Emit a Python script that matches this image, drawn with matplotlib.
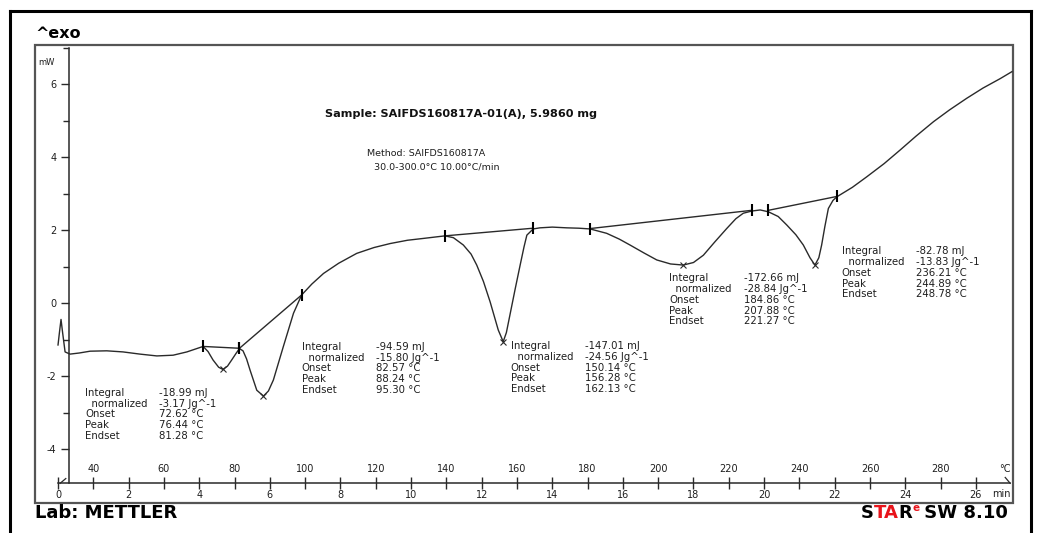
import matplotlib
matplotlib.use('Agg')
import matplotlib.pyplot as plt
from matplotlib.patches import Rectangle
from matplotlib.lines import Line2D
from matplotlib.ticker import FixedLocator

plt.rcParams['font.family'] = ['DejaVu Sans']
plt.rcParams['axes.unicode_minus'] = False

# DSC curve (time in min, heat flow in mW)
time_min = [0.00, 0.04, 0.085, 0.13, 0.20, 0.34, 0.60, 0.91, 1.38, 1.84,
            2.32, 2.80, 3.26, 3.65, 4.11, 4.25, 4.39, 4.55, 4.67, 4.80,
            4.92, 5.05, 5.14, 5.24, 5.34, 5.44, 5.63, 5.82, 5.96, 6.10,
            6.38, 6.67, 6.90, 7.19, 7.52, 7.95, 8.46, 8.95, 9.41, 9.90,
            10.35, 10.96, 11.20, 11.48, 11.70, 11.86, 12.05, 12.24, 12.47, 12.61,
            12.70, 12.80, 12.95, 13.09, 13.20, 13.28, 13.46, 13.65, 14.00, 14.41,
            14.75, 15.07, 15.54, 15.90, 16.20, 16.60, 16.96, 17.35, 17.71, 18.00,
            18.28, 18.60, 18.94, 19.20, 19.41, 19.65, 19.89, 20.12, 20.40, 20.64,
            20.90, 21.11, 21.30, 21.44, 21.55, 21.63, 21.72, 21.82, 21.95, 22.06,
            22.50, 22.91, 23.40, 23.85, 24.30, 24.80, 25.25, 25.74, 26.20, 26.69,
            27.02]
heat_flow = [-1.14, -0.80, -0.44, -0.80, -1.33, -1.39, -1.36, -1.31, -1.30, -1.33,
             -1.39, -1.44, -1.42, -1.33, -1.18, -1.32, -1.55, -1.75, -1.81, -1.72,
             -1.55, -1.36, -1.24, -1.30, -1.52, -1.83, -2.38, -2.54, -2.40, -2.10,
             -1.19, -0.27, 0.23, 0.53, 0.82, 1.10, 1.37, 1.53, 1.64, 1.73,
             1.78, 1.85, 1.80, 1.60, 1.35, 1.05, 0.60, 0.04, -0.73, -1.05,
             -0.80, -0.32, 0.40, 1.05, 1.55, 1.87, 2.04, 2.07, 2.09, 2.07,
             2.06, 2.04, 1.92, 1.76, 1.60, 1.38, 1.19, 1.08, 1.05, 1.12,
             1.32, 1.68, 2.05, 2.32, 2.47, 2.53, 2.56, 2.51, 2.38, 2.15,
             1.88, 1.60, 1.25, 1.05, 1.25, 1.60, 2.10, 2.60, 2.82, 2.92,
             3.18, 3.47, 3.83, 4.20, 4.58, 4.98, 5.30, 5.62, 5.90, 6.16,
             6.35]

# integration limits (start, end) of each peak
limit_t = [(4.11, 5.14), (5.14, 6.90), (10.96, 13.46), (15.07, 19.65), (20.12, 22.06)]
limit_mw = [(-1.18, -1.23), (-1.23, 0.23), (1.85, 2.06), (2.05, 2.55), (2.55, 2.93)]
peak_t = [4.67, 5.82, 12.61, 17.71, 21.44]
peak_mw = [-1.81, -2.54, -1.05, 1.05, 1.05]

# evaluation results
integral_mj = ['-18.99', '-94.59', '-147.01', '-172.66', '-82.78']
normalized = ['-3.17', '-15.80', '-24.56', '-28.84', '-13.83']
onset_c = ['72.62', '82.57', '150.14', '184.86', '236.21']
peak_c = ['76.44', '88.24', '156.28', '207.88', '244.89']
endset_c = ['81.28', '95.30', '162.13', '221.27', '248.78']
block_pos = [(0.77, -2.45), (6.90, -1.19), (12.82, -1.17), (17.32, 0.69), (22.20, 1.43)]

temp_ticks = [40, 60, 80, 100, 120, 140, 160, 180, 200, 220, 240, 260, 280]
time_ticks = list(range(0, 27, 2))

W, H = 1041, 533
fig = plt.figure(figsize=(W / 100, H / 100), dpi=100)
ax = fig.add_axes([35 / W, 1 - 503 / H, (1013 - 35) / W, (503 - 45) / H])
ax.set_xlim(-0.652, 27.05)
ax.set_ylim(-5.47, 7.08)
ax.patch.set_alpha(0)

ink = '#2a2a2a'
txt = '#1e1e1e'
ax.plot(time_min, heat_flow, color=ink, lw=1.0)
for (t0, t1), (m0, m1) in zip(limit_t, limit_mw):
    ax.plot([t0, t1], [m0, m1], color=ink, lw=1.0)
    ax.plot([t0, t1], [m0, m1], ls='none', marker='|', ms=8, mew=1.5, color='k')
ax.plot(peak_t, peak_mw, ls='none', marker='x', ms=5, mew=0.8, color=ink)

# result tables
row = 0.296
names = ['Integral', '  normalized', 'Onset', 'Peak', 'Endset']
for i, (bx, by) in enumerate(block_pos):
    vals = [integral_mj[i] + ' mJ', normalized[i] + ' Jg^-1', onset_c[i] + ' °C',
            peak_c[i] + ' °C', endset_c[i] + ' °C']
    for k in range(5):
        ax.text(bx, by - k * row, names[k], fontsize=7.3, va='center', ha='left', color=txt)
        ax.text(bx + 2.10, by - k * row, vals[k], fontsize=7.3, va='center', ha='left', color=txt)

ax.text(7.56, 5.19, 'Sample: SAIFDS160817A-01(A), 5.9860 mg', fontsize=8.1,
        fontweight='bold', va='center', ha='left', color='#111')
ax.text(8.76, 4.11, 'Method: SAIFDS160817A', fontsize=6.8, va='center', ha='left', color=txt)
ax.text(8.95, 3.73, '30.0-300.0°C 10.00°C/min', fontsize=6.8, va='center', ha='left', color=txt)

# axes
for s in ['top', 'right']:
    ax.spines[s].set_visible(False)
ax.spines['left'].set_position(('data', 0.31))
ax.spines['left'].set_bounds(-4.93, 7.0)
ax.spines['bottom'].set_position(('data', -4.93))
ax.spines['bottom'].set_bounds(0, 26.97)
for s in ['left', 'bottom']:
    ax.spines[s].set_color(ink)
    ax.spines[s].set_linewidth(1.1)

ax.yaxis.set_major_locator(FixedLocator([-4, -2, 0, 2, 4, 6]))
ax.yaxis.set_minor_locator(FixedLocator([-3, -1, 1, 3, 5, 7]))
ax.tick_params(axis='y', which='major', length=6, width=1, color=ink, labelsize=7,
               labelcolor=txt, pad=3)
ax.tick_params(axis='y', which='minor', length=4.5, width=1, color=ink)

ax.xaxis.set_major_locator(FixedLocator(time_ticks))
ax.xaxis.set_minor_locator(FixedLocator([(t - 30) / 10 for t in temp_ticks]))
ax.tick_params(axis='x', which='both', direction='inout', length=8, width=1,
               color=ink, labelsize=7, labelcolor=txt, pad=1)
for T in temp_ticks:
    ax.text((T - 30) / 10, -4.55, str(T), fontsize=7, ha='center', va='center', color=txt)
ax.text(26.97, -4.55, '°C', fontsize=7, ha='right', va='center', color=txt)
ax.text(26.97, -5.23, 'min', fontsize=7, ha='right', va='center', color=txt)
ax.plot([0.06, 0.22], [-4.93, -4.80], color=ink, lw=0.9, clip_on=False)
ax.plot([26.83, 26.97], [-4.77, -4.93], color=ink, lw=0.9, clip_on=False)
ax.text(-0.57, 6.61, 'mW', fontsize=6, ha='left', va='center', color=txt)

# plot box and outer frame
ax.add_patch(Rectangle((0, 0), 1, 1, transform=ax.transAxes, fill=False,
                       edgecolor='#555', lw=1.6, clip_on=False))
for xs, ys in [([10, 10], [11, 533]), ([10, 1031], [11, 11]), ([1031, 1031], [11, 533])]:
    fig.add_artist(Line2D([x / W for x in xs], [1 - y / H for y in ys],
                          color='k', lw=2.2, transform=fig.transFigure))

fig.text(35 / W, 1 - 33.5 / H, '^exo', fontsize=11.5, fontweight='bold', va='center', ha='left')
fig.text(35 / W, 1 - 513.5 / H, 'Lab: METTLER', fontsize=13, fontweight='bold',
         va='center', ha='left')

t1 = fig.text(860.7 / W, 1 - 513.5 / H, 'S', fontsize=13, fontweight='bold',
              va='center', ha='left', color='k')
t2 = ax.annotate('TA', xy=(1, 0), xycoords=t1, va='bottom', ha='left',
                 fontsize=13, fontweight='bold', color='#e8141b')
t3 = ax.annotate('R', xy=(1, 0), xycoords=t2, va='bottom', ha='left',
                 fontsize=13, fontweight='bold', color='k')
t4 = ax.annotate('e', xy=(1, 0.55), xycoords=t3, va='bottom', ha='left',
                 fontsize=7.5, fontweight='bold', color='#e8141b')
ax.annotate(' SW 8.10', xy=(1, 0), xycoords=t3, xytext=(4, 0), textcoords='offset points',
            va='bottom', ha='left', fontsize=13, fontweight='bold', color='k')

fig.savefig('out.png', dpi=100)
